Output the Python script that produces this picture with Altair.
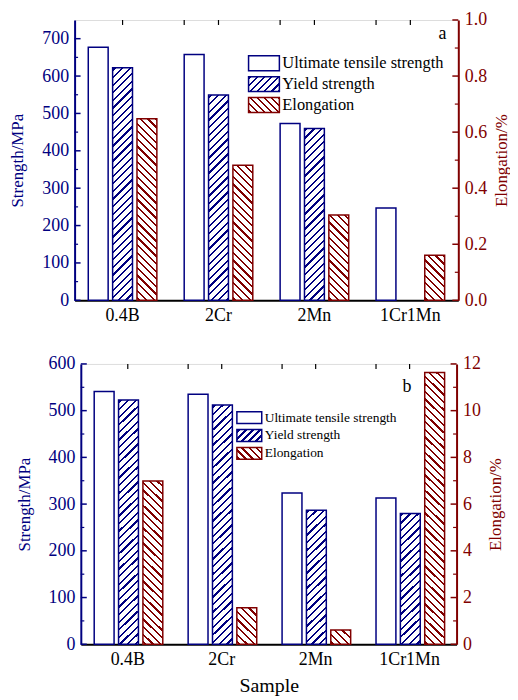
import math
import altair as alt

# ---------------- data ----------------
CATS = ["0.4B", "2Cr", "2Mn", "1Cr1Mn"]
SERIES = ["Ultimate tensile strength", "Yield strength", "Elongation"]

A_UTS = [677, 658, 473, 247]
A_YS = [622, 549, 460, None]
A_EL = [0.648, 0.482, 0.304, 0.161]

B_UTS = [541, 535, 324, 313]
B_YS = [523, 512, 287, 280]
B_EL = [6.99, 1.56, 0.61, 11.63]

A_STR_TICKS = [0, 100, 200, 300, 400, 500, 600, 700]
A_STR_MINOR = [50, 150, 250, 350, 450, 550, 650]
A_EL_TICKS = [0.0, 0.2, 0.4, 0.6, 0.8, 1.0]
A_EL_MINOR = [0.1, 0.3, 0.5, 0.7, 0.9]

B_STR_TICKS = [0, 100, 200, 300, 400, 500, 600]
B_STR_MINOR = [50, 150, 250, 350, 450, 550]
B_EL_TICKS = [0, 2, 4, 6, 8, 10, 12]
B_EL_MINOR = [1, 3, 5, 7, 9, 11]

# ---------------- style ----------------
NAVY = "#000080"
WINE = "#800000"
SERIF = "Liberation Serif"
P_IN = 0.285   # x band padding
Q_IN = 0.184   # offset padding


def hatch(w, h, color, direction, period=5.4, lw=1.6):
    """Diagonal stripes built from a linear gradient (objectBoundingBox units)."""
    h = max(h, 1.0)
    D = (w + h) / math.sqrt(2)
    a = (w + h) / (w * w + h * h)
    if direction == "/":
        g = dict(x1=0, y1=0, x2=a * w, y2=a * h)
    else:
        g = dict(x1=0, y1=1, x2=a * w, y2=1 - a * h)
    stops = []
    pos = 1.0
    stops.append({"offset": 0, "color": "white"})
    while pos < D:
        s = pos / D
        e = min((pos + lw) / D, 1.0)
        stops += [
            {"offset": s, "color": "white"},
            {"offset": s, "color": color},
            {"offset": e, "color": color},
            {"offset": e, "color": "white"},
        ]
        pos += period
    stops.append({"offset": 1, "color": "white"})
    return {"gradient": "linear", **g, "stops": stops}


def panel(uts, ys, el, smax, emax, sticks, sminor, eticks, eminor,
          W, H, tag, tagxy, leg, show_xtitle, efmt):
    step = W / 4
    bwx = step * (1 - P_IN)
    step_o = bwx / (3 - Q_IN)
    barw = step_o * (1 - Q_IN)

    s_rows, e_rows = [], []
    for c, u, y, e in zip(CATS, uts, ys, el):
        s_rows.append({"cat": c, "series": SERIES[0], "value": u, "grad": "white"})
        if y is not None:
            s_rows.append({"cat": c, "series": SERIES[1], "value": y,
                           "grad": hatch(barw, y / smax * H, NAVY, "/")})
        e_rows.append({"cat": c, "series": SERIES[2], "value": e,
                       "grad": hatch(barw, e / emax * H, WINE, "\\")})

    xscale = alt.Scale(domain=CATS, paddingInner=P_IN, paddingOuter=P_IN / 2)
    xenc = alt.X("cat:N", sort=CATS, scale=xscale,
                 axis=alt.Axis(orient="bottom", labelAngle=0, ticks=False,
                               domainColor="black", domainWidth=2,
                               labelFont=SERIF, labelFontSize=18, labelColor="black",
                               labelPadding=6,
                               title="Sample" if show_xtitle else None,
                               titleFont=SERIF, titleFontSize=20, titleFontWeight="normal",
                               titleColor="black", titlePadding=8))
    xoff = alt.XOffset("series:N", scale=alt.Scale(domain=SERIES, paddingInner=Q_IN, paddingOuter=0))

    s_axis = alt.Axis(orient="left", values=sticks, tickSize=0, grid=False,
                      domainColor=NAVY, domainWidth=2, labelColor=NAVY,
                      labelFont=SERIF, labelFontSize=18, labelPadding=6,
                      title="Strength/MPa", titleColor=NAVY, titleFont=SERIF,
                      titleFontSize=17, titleFontWeight="normal", titlePadding=15)
    s_y = alt.Y("value:Q", scale=alt.Scale(domain=[0, smax], nice=False, zero=True), axis=s_axis)

    e_axis = alt.Axis(orient="right", values=eticks, tickSize=0, grid=False, format=efmt,
                      domainColor=WINE, domainWidth=2, labelColor=WINE,
                      labelFont=SERIF, labelFontSize=18, labelPadding=6,
                      title="Elongation/%", titleColor=WINE, titleFont=SERIF,
                      titleFontSize=17, titleFontWeight="normal", titlePadding=7,
                      titleAngle=270, titleBaseline="top")
    e_y = alt.Y("value:Q", scale=alt.Scale(domain=[0, emax], nice=False, zero=True), axis=e_axis)

    s_bars = alt.Chart(alt.Data(values=s_rows)).mark_bar(stroke=NAVY, strokeWidth=1.5).encode(
        x=xenc, xOffset=xoff, y=s_y, fill=alt.Fill("grad:N", scale=None))
    s_maj = alt.Chart(alt.Data(values=[{"value": v} for v in sticks])).mark_rule(
        color=NAVY, strokeWidth=1.5).encode(y=s_y, x=alt.value(0), x2=alt.value(6))
    s_min = alt.Chart(alt.Data(values=[{"value": v} for v in sminor])).mark_rule(
        color=NAVY, strokeWidth=1.2).encode(y=s_y, x=alt.value(0), x2=alt.value(3.5))
    top_rows = [{"cat": c} for c in CATS]
    top_c = alt.Chart(alt.Data(values=top_rows)).mark_rule(color="black", strokeWidth=1.2).encode(
        x=alt.X("cat:N", sort=CATS, bandPosition=0.5, scale=xscale),
        y=alt.value(0), y2=alt.value(5))
    top_b = alt.Chart(alt.Data(values=top_rows[1:])).mark_rule(color="black", strokeWidth=1.2).encode(
        x=alt.X("cat:N", sort=CATS, bandPosition=0, scale=xscale),
        y=alt.value(0), y2=alt.value(5))
    strength = alt.layer(s_bars, s_maj, s_min, top_c, top_b)

    e_bars = alt.Chart(alt.Data(values=e_rows)).mark_bar(stroke=WINE, strokeWidth=1.5).encode(
        x=xenc, xOffset=xoff, y=e_y, fill=alt.Fill("grad:N", scale=None))
    e_maj = alt.Chart(alt.Data(values=[{"value": v} for v in eticks])).mark_rule(
        color=WINE, strokeWidth=1.5).encode(y=e_y, x=alt.value(W), x2=alt.value(W - 6))
    e_min = alt.Chart(alt.Data(values=[{"value": v} for v in eminor])).mark_rule(
        color=WINE, strokeWidth=1.2).encode(y=e_y, x=alt.value(W), x2=alt.value(W - 3.5))
    elong = alt.layer(e_bars, e_maj, e_min)

    # legend
    lx, ly, lw_, lh, lgap, lfs = leg
    legend_layers = []
    fills = ["white", hatch(lw_, lh, NAVY, "/", period=5.0),
             hatch(lw_, lh, WINE, "\\", period=5.0)]
    strokes = [NAVY, NAVY, WINE]
    one = alt.Data(values=[{"k": 0}])
    for i, name in enumerate(SERIES):
        y0 = ly + i * lgap
        legend_layers.append(
            alt.Chart(one).mark_rect(fill=fills[i], stroke=strokes[i], strokeWidth=1.5).encode(
                x=alt.value(lx), x2=alt.value(lx + lw_), y=alt.value(y0), y2=alt.value(y0 + lh)))
        legend_layers.append(
            alt.Chart(one).mark_text(align="left", baseline="middle", font=SERIF,
                                     fontSize=lfs, color="black").encode(
                x=alt.value(lx + lw_ + 3), y=alt.value(y0 + lh / 2), text=alt.value(name)))
    tag_layer = alt.Chart(one).mark_text(align="center", baseline="middle", font=SERIF,
                                         fontSize=18, color="black").encode(
        x=alt.value(tagxy[0]), y=alt.value(tagxy[1]), text=alt.value(tag))

    return alt.layer(strength, elong, *legend_layers, tag_layer).resolve_scale(
        y="independent").properties(width=W, height=H)


top = panel(A_UTS, A_YS, A_EL, 750, 1.0, A_STR_TICKS, A_STR_MINOR, A_EL_TICKS, A_EL_MINOR,
            386, 282, "a", (370, 14), (175, 36, 31, 15, 21, 16.5), False, ".1f")
bottom = panel(B_UTS, B_YS, B_EL, 600, 12, B_STR_TICKS, B_STR_MINOR, B_EL_TICKS, B_EL_MINOR,
               378, 282, "b", (328, 23), (157, 48, 25, 12, 18, 13.5), True, "d")

chart = alt.vconcat(top, bottom, spacing=29, center=True).properties(
    padding=0).configure_view(
    stroke="black", strokeWidth=1.5).configure(font=SERIF)

chart.save("out.html", embed_options={"renderer": "svg", "actions": False})
